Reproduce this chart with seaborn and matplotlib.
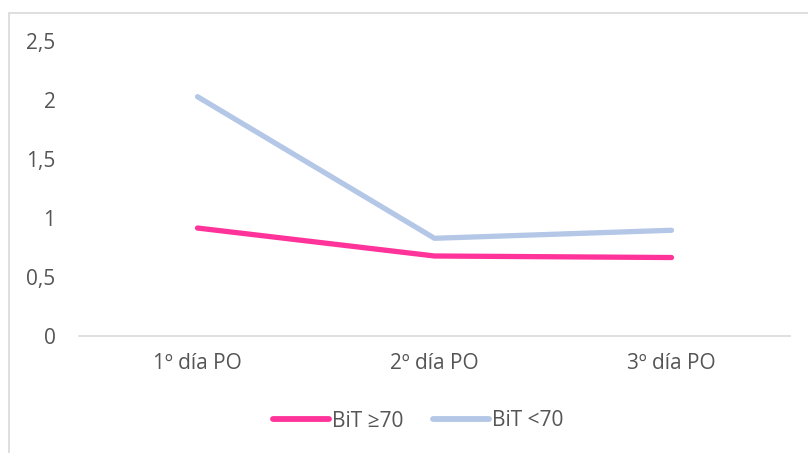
import matplotlib
matplotlib.use("Agg")
import matplotlib.pyplot as plt
import matplotlib.ticker as mticker
from matplotlib.patches import Rectangle
import seaborn as sns
import pandas as pd

# data
days = ["1º día PO", "2º día PO", "3º día PO"]
bit_high = [0.915, 0.678, 0.665]   # BiT ≥70
bit_low = [2.028, 0.828, 0.896]    # BiT <70
series_names = ["BiT ≥70", "BiT <70"]
colors = ["#FF3399", "#B4C7E7"]
y_ticks = [0, 0.5, 1, 1.5, 2, 2.5]

df = pd.DataFrame({
    "day": days * 2,
    "value": bit_high + bit_low,
    "serie": [series_names[0]] * 3 + [series_names[1]] * 3,
})

sns.set_style("white")
plt.rcParams['font.family'] = ['Open Sans', 'DejaVu Sans']
text_col = "#555555"

W, H = 808, 453
fig = plt.figure(figsize=(W / 100, H / 100), dpi=100)
fig.patch.set_facecolor("white")
# chart frame (only left/top edges visible in the reference)
fig.patches.append(Rectangle((9 / W, -0.1), 1.2, 1.1 - 13 / H,
                             transform=fig.transFigure, fill=False,
                             edgecolor="#D9D9D9", linewidth=1.2))

ax = fig.add_axes([79 / W, 1 - 336 / H, (790 - 79) / W, (336 - 41) / H])
sns.lineplot(data=df, x="day", y="value", hue="serie", palette=colors,
             linewidth=3.8, sort=False, ax=ax, legend=False,
             solid_capstyle="round")

ax.set_xlim(-0.5, 2.5)
ax.set_ylim(0, 2.5)
ax.set_yticks(y_ticks)
ax.yaxis.set_major_formatter(mticker.FuncFormatter(
    lambda v, p: f"{v:g}".replace(".", ",")))
ax.set_xlabel("")
ax.set_ylabel("")
for s in ["top", "right", "left"]:
    ax.spines[s].set_visible(False)
ax.spines["bottom"].set_color("#D9D9D9")
ax.spines["bottom"].set_linewidth(1.2)
ax.tick_params(axis="both", length=0, labelsize=15, colors=text_col)
ax.tick_params(axis="y", pad=17)
ax.tick_params(axis="x", pad=12)
ax.patch.set_alpha(0)

handles = [plt.Line2D([], [], color=c, linewidth=4.2, solid_capstyle="round")
           for c in colors]
fig.legend(handles, series_names, loc="center", bbox_to_anchor=(418 / W, 1 - 421 / H),
           ncol=2, frameon=False, fontsize=15, labelcolor=text_col,
           handlelength=2.7, handletextpad=0.15, columnspacing=1.4)

fig.savefig("out.png", dpi=100)
